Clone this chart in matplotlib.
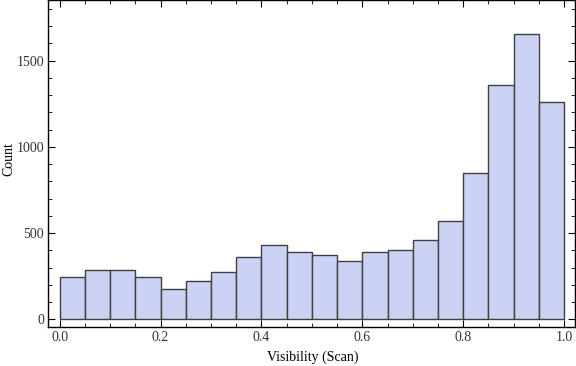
import matplotlib
matplotlib.use('Agg')
import matplotlib.pyplot as plt
import numpy as np
from matplotlib import ticker as mticker

# histogram bins (width 0.05) and counts
bin_edges = [0.0, 0.05, 0.1, 0.15, 0.2, 0.25, 0.3, 0.35, 0.4, 0.45, 0.5,
             0.55, 0.6, 0.65, 0.7, 0.75, 0.8, 0.85, 0.9, 0.95, 1.0]
counts = [243, 284, 284, 243, 174, 220, 272, 361, 434, 388,
          376, 336, 388, 400, 459, 573, 851, 1361, 1656, 1262]

plt.rcParams.update({'font.family': 'Liberation Serif', 'font.size': 10})

fig = plt.figure(figsize=(5.76, 3.66), dpi=100)
ax = fig.add_axes([0.0839, 0.107, 0.9137, 0.892])

left = np.array(bin_edges[:-1])
widths = np.diff(bin_edges)
ax.bar(left, counts, width=widths, align='edge', color='#cbd2f4',
       edgecolor='#404040', linewidth=1.0)

ax.set_xlim(-0.0224, 1.0208)
ax.set_ylim(-43, 1849)

ax.xaxis.set_major_locator(mticker.MultipleLocator(0.2))
ax.xaxis.set_minor_locator(mticker.MultipleLocator(0.05))
ax.yaxis.set_major_locator(mticker.MultipleLocator(500))
ax.yaxis.set_minor_locator(mticker.MultipleLocator(100))
ax.xaxis.set_major_formatter(mticker.FormatStrFormatter('%.1f'))

ax.tick_params(which='both', direction='in', top=True, right=True,
               colors='black', labelcolor='#333333')
ax.tick_params(which='major', length=5, width=0.8, labelsize=10, pad=3)
ax.tick_params(which='minor', length=3, width=0.6)

for s in ax.spines.values():
    s.set_linewidth(1.0)

# axis labels placed like the original (figure fractions)
fig.text(0.543, 0.025, 'Visibility (Scan)', ha='center', va='center', fontsize=10)
fig.text(0.015, 0.565, 'Count', ha='center', va='center', rotation=90, fontsize=10)

fig.savefig('out.png', dpi=100)
